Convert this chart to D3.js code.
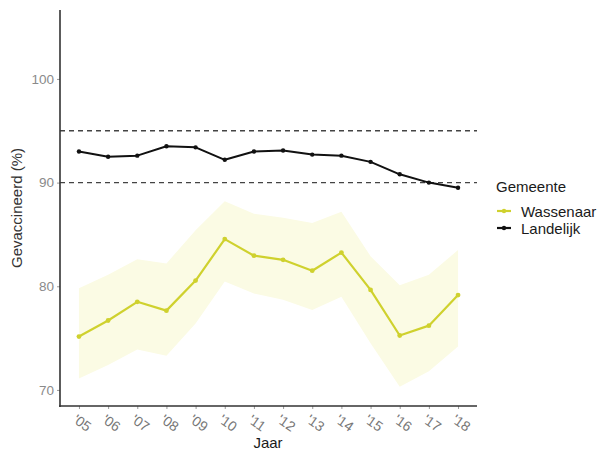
<!DOCTYPE html>
<html><head><meta charset="utf-8">
<script src="https://cdn.jsdelivr.net/npm/d3@7"></script>
<style>
html,body{margin:0;padding:0;background:#fff;}
svg{display:block;font-family:"Liberation Sans",Arial,Helvetica,sans-serif;}
</style></head>
<body>
<svg id="chart" width="602" height="453"></svg>
<script>
const years = [2005,2006,2007,2008,2009,2010,2011,2012,2013,2014,2015,2016,2017,2018];
const yearLabels = ["'05","'06","'07","'08","'09","'10","'11","'12","'13","'14","'15","'16","'17","'18"];
const landelijk = [93.0,92.5,92.6,93.5,93.4,92.2,93.0,93.1,92.7,92.6,92.0,90.8,90.0,89.5];
const wassenaar = [75.15,76.7,78.5,77.65,80.55,84.55,82.95,82.55,81.5,83.25,79.65,75.25,76.2,79.15];
const wassenaarUpper = [79.8,81.1,82.6,82.2,85.4,88.2,87.0,86.6,86.1,87.2,82.9,80.1,81.1,83.5];
const wassenaarLower = [71.1,72.4,73.9,73.3,76.4,80.45,79.3,78.7,77.7,79.0,74.5,70.3,71.8,74.2];
const yTicks = [70,80,90,100];
const refLines = [95,90];
const legendLabels = ["Wassenaar","Landelijk"];
const legendTitle = "Gemeente";
const xTitle = "Jaar";
const yTitle = "Gevaccineerd (%)";

(function(){
const svg = d3.select("#chart");
const pL = 60, pR = 477, pT = 10, pB = 406;
const x = d3.scaleLinear().domain([2004.35, 2018.65]).range([pL, pR]);
const y = d3.scaleLinear().domain([68.45, 106.65]).range([pB, pT]);

const yellow = "#cfd12e", ribbon = "#fbfbe4", black = "#111";

const wData = years.map((yr,i)=>({yr, v:wassenaar[i], lo:wassenaarLower[i], hi:wassenaarUpper[i]}));
svg.append("path").datum(wData)
  .attr("d", d3.area().x(d=>x(d.yr)).y0(d=>y(d.lo)).y1(d=>y(d.hi)))
  .attr("fill", ribbon);

refLines.forEach(v=>{
  svg.append("line").attr("x1",pL).attr("x2",pR).attr("y1",y(v)).attr("y2",y(v))
    .attr("stroke","#444").attr("stroke-width",1.3).attr("stroke-dasharray","5,4");
});

const line = d3.line().x(d=>x(d.yr)).y(d=>y(d.v));
svg.append("path").datum(wData).attr("d", line).attr("fill","none")
  .attr("stroke", yellow).attr("stroke-width",2.2).attr("stroke-linejoin","round");
svg.selectAll(".wp").data(wData).enter().append("circle")
  .attr("cx",d=>x(d.yr)).attr("cy",d=>y(d.v)).attr("r",2.4).attr("fill",yellow);

const lData = years.map((yr,i)=>({yr, v:landelijk[i]}));
svg.append("path").datum(lData).attr("d", line).attr("fill","none")
  .attr("stroke", black).attr("stroke-width",2).attr("stroke-linejoin","round");
svg.selectAll(".lp").data(lData).enter().append("circle")
  .attr("cx",d=>x(d.yr)).attr("cy",d=>y(d.v)).attr("r",2.2).attr("fill",black);

const yAxis = svg.append("g").attr("transform",`translate(${pL},0)`)
  .call(d3.axisLeft(y).tickValues(yTicks).tickSize(3).tickPadding(3).tickFormat(d3.format("d")));
yAxis.select(".domain").remove();
yAxis.selectAll(".tick line").attr("stroke","#999");
yAxis.selectAll(".tick text").attr("fill","#8a8a8a").attr("font-size",13.5);
svg.append("line").attr("x1",pL).attr("x2",pL).attr("y1",pT).attr("y2",pB+1)
  .attr("stroke","#333").attr("stroke-width",1.6);

const xAxis = svg.append("g").attr("transform",`translate(0,${pB})`)
  .call(d3.axisBottom(x).tickValues(years).tickSize(3).tickFormat((d,i)=>yearLabels[i]));
xAxis.select(".domain").remove();
xAxis.selectAll(".tick line").attr("stroke","#999");
xAxis.selectAll(".tick text").attr("fill","#777").attr("font-size",14)
  .attr("text-anchor","middle").attr("y",0).attr("dy",0)
  .attr("transform","translate(0,21) rotate(35)");
svg.append("line").attr("x1",pL-1).attr("x2",pR).attr("y1",pB).attr("y2",pB)
  .attr("stroke","#333").attr("stroke-width",1.6);

svg.append("text").attr("x",268).attr("y",448).attr("text-anchor","middle")
  .attr("font-size",15).attr("fill","#1a1a1a").text(xTitle);
svg.append("text").attr("transform","translate(22,208) rotate(-90)").attr("text-anchor","middle")
  .attr("font-size",15).attr("fill","#333").text(yTitle);

const lg = svg.append("g");
lg.append("text").attr("x",496).attr("y",192).attr("font-size",15).attr("fill","#1a1a1a").text(legendTitle);
const legCols = [yellow, black];
legendLabels.forEach((lab,i)=>{
  const ly = 211 + i*17;
  lg.append("line").attr("x1",497).attr("x2",511).attr("y1",ly).attr("y2",ly)
    .attr("stroke",legCols[i]).attr("stroke-width",2.2);
  lg.append("circle").attr("cx",504).attr("cy",ly).attr("r",2.2).attr("fill",legCols[i]);
  lg.append("text").attr("x",521).attr("y",ly+5.5).attr("font-size",15).attr("fill","#1a1a1a").text(lab);
});
})();
</script>
</body></html>
